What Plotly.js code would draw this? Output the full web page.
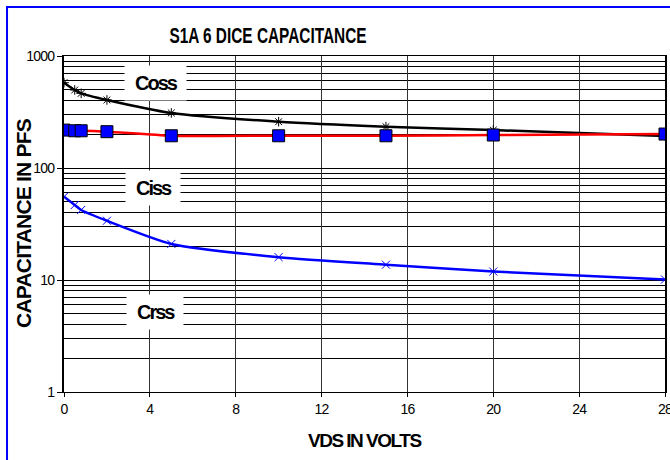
<!DOCTYPE html>
<html>
<head>
<meta charset="utf-8">
<script src="https://cdn.plot.ly/plotly-3.0.1.min.js"></script>
<style>
html,body{margin:0;padding:0;background:#fff;}
#chart{width:670px;height:460px;}
#chart .gtitle{transform-box:fill-box;transform-origin:center;transform:scaleX(0.7);}
#chart g.annotation[data-index="0"] text,
#chart g.annotation[data-index="1"] text,
#chart g.annotation[data-index="2"] text{letter-spacing:-2px;}
#chart g.annotation[data-index="3"] text{letter-spacing:-0.8px;}
#chart g.annotation[data-index="4"] text{letter-spacing:-1.5px;}
#chart .xtick text, #chart .ytick text{letter-spacing:-0.8px;}
</style>
</head>
<body>
<div id="chart"></div>
<script>
const vds  = [0, 0.5, 0.8, 2, 5, 10, 15, 20, 28];
const coss = [578, 497, 464, 405, 310, 259, 234, 218, 193];
const ciss = [218, 215, 215, 211, 194, 194, 194, 197, 201];
const crss = [55.4, 46.7, 42.2, 33.8, 21, 16.0, 13.7, 11.9, 10.1];
const labelNames = ["Coss", "Ciss", "Crss"];
const labelX = [4.25, 4.15, 4.25];
const labelY = [575, 66, 5.2];
const xTicks = [0, 4, 8, 12, 16, 20, 24, 28];
const yTicks = [1, 10, 100, 1000];

const font = "'Liberation Sans', Arial, sans-serif";

const traces = [
  {x: vds, y: coss, mode: 'lines+markers', line: {color: '#000000', width: 2.5, shape: 'spline', smoothing: 0.6},
   marker: {symbol: 'asterisk-open', size: 8, color: '#000000', line: {width: 1, color: '#000000'}}},
  {x: vds, y: ciss, mode: 'lines+markers', line: {color: '#ff0000', width: 2.5, shape: 'spline', smoothing: 0.6},
   marker: {symbol: 'square', size: 12, color: '#0000ff', line: {width: 1, color: '#000000'}}},
  {x: vds, y: crss, mode: 'lines+markers', line: {color: '#0000ff', width: 2.5, shape: 'spline', smoothing: 0.6},
   marker: {symbol: 'x-thin-open', size: 8, color: '#0000ff', line: {width: 1, color: '#0000ff'}}}
];

const annotations = labelNames.map((t, i) => ({
  x: labelX[i], y: Math.log10(labelY[i]), xref: 'x', yref: 'y', text: '<b>' + t + '</b>', showarrow: false,
  xanchor: 'center', yanchor: 'middle',
  font: {family: font, size: 20, color: '#000'}, bgcolor: '#ffffff', borderpad: 6
}));
annotations.push({x: -0.068, y: 0.5, xref: 'paper', yref: 'paper', text: '<b>CAPACITANCE IN PFS</b>',
  textangle: -90, showarrow: false, xanchor: 'center', yanchor: 'middle',
  font: {family: font, size: 21, color: '#000'}});
annotations.push({x: 0.5, y: -0.143, xref: 'paper', yref: 'paper', text: '<b>VDS IN VOLTS</b>',
  showarrow: false, xanchor: 'center', yanchor: 'middle',
  font: {family: font, size: 19, color: '#000'}});

const layout = {
  width: 670, height: 460,
  margin: {l: 64, r: 5, t: 56, b: 68},
  paper_bgcolor: '#ffffff', plot_bgcolor: '#ffffff',
  showlegend: false,
  title: {text: '<b>S1A 6 DICE CAPACITANCE</b>', x: 0.4, xref: 'container', xanchor: 'center',
          y: 0.924, yref: 'container', yanchor: 'middle',
          font: {family: font, size: 22, color: '#000'}},
  xaxis: {range: [0, 28], tickvals: xTicks, ticktext: xTicks.map(String), showgrid: true,
          gridcolor: '#333333', gridwidth: 1, zeroline: false,
          showline: true, linecolor: '#000', linewidth: 1, mirror: true,
          ticks: 'outside', ticklen: 4, tickcolor: '#000', ticklabeloverflow: 'allow',
          tickfont: {family: font, size: 14, color: '#000'}},
  yaxis: {type: 'log', range: [0, 3], tickvals: yTicks, ticktext: yTicks.map(String),
          showgrid: true, gridcolor: '#000000', gridwidth: 1, zeroline: false,
          showline: true, linecolor: '#000', linewidth: 2, mirror: true,
          ticks: 'outside', ticklen: 5, tickcolor: '#000',
          tickfont: {family: font, size: 14, color: '#000'},
          minor: {dtick: 'D1', showgrid: true, gridcolor: '#000000', gridwidth: 1, ticks: ''}},
  annotations: annotations,
  shapes: [{type: 'rect', xref: 'paper', yref: 'paper', x0: -0.0948, x1: 1.3, y0: -0.6, y1: 1.1458,
            line: {color: '#0000ff', width: 2}, layer: 'above'}]
};

Plotly.newPlot('chart', traces, layout, {displayModeBar: false, staticPlot: true});
</script>
</body>
</html>
